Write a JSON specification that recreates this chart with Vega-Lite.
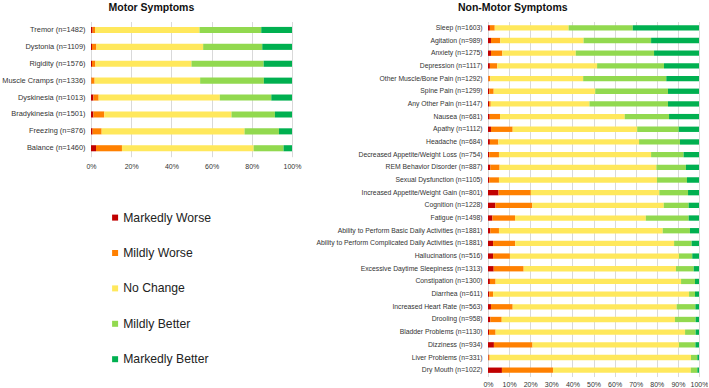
{
  "$schema": "https://vega.github.io/schema/vega-lite/v6.json",
  "padding": {"left": 1, "top": 2.5, "right": 0, "bottom": 0},
  "background": "white",
  "config": {
    "view": {"stroke": null},
    "font": "Liberation Sans",
    "axis": {"domain": false, "ticks": false, "labelColor": "#333333", "labelFont": "Liberation Sans", "labelFlush": false},
    "title": {"font": "Liberation Sans", "fontSize": 10.5, "fontWeight": "bold", "color": "#111111"}
  },
  "datasets": {
    "levels": [
      {"c": "Markedly Worse", "k": 1},
      {"c": "Mildly Worse", "k": 2},
      {"c": "No Change", "k": 3},
      {"c": "Mildly Better", "k": 4},
      {"c": "Markedly Better", "k": 5}
    ],
    "motor": [
      {"s": "Tremor (n=1482)", "c": "Markedly Worse", "v": 0.8},
      {"s": "Tremor (n=1482)", "c": "Mildly Worse", "v": 1.2},
      {"s": "Tremor (n=1482)", "c": "No Change", "v": 52},
      {"s": "Tremor (n=1482)", "c": "Mildly Better", "v": 30.7},
      {"s": "Tremor (n=1482)", "c": "Markedly Better", "v": 15.3},
      {"s": "Dystonia (n=1109)", "c": "Markedly Worse", "v": 0.5},
      {"s": "Dystonia (n=1109)", "c": "Mildly Worse", "v": 2.2},
      {"s": "Dystonia (n=1109)", "c": "No Change", "v": 53.1},
      {"s": "Dystonia (n=1109)", "c": "Mildly Better", "v": 29.4},
      {"s": "Dystonia (n=1109)", "c": "Markedly Better", "v": 14.8},
      {"s": "Rigidity  (n=1576)", "c": "Markedly Worse", "v": 0.5},
      {"s": "Rigidity  (n=1576)", "c": "Mildly Worse", "v": 1.7},
      {"s": "Rigidity  (n=1576)", "c": "No Change", "v": 47.8},
      {"s": "Rigidity  (n=1576)", "c": "Mildly Better", "v": 35.9},
      {"s": "Rigidity  (n=1576)", "c": "Markedly Better", "v": 14.1},
      {"s": "Muscle Cramps (n=1336)", "c": "Markedly Worse", "v": 0.2},
      {"s": "Muscle Cramps (n=1336)", "c": "Mildly Worse", "v": 1.6},
      {"s": "Muscle Cramps (n=1336)", "c": "No Change", "v": 52.5},
      {"s": "Muscle Cramps (n=1336)", "c": "Mildly Better", "v": 31.7},
      {"s": "Muscle Cramps (n=1336)", "c": "Markedly Better", "v": 14},
      {"s": "Dyskinesia (n=1013)", "c": "Markedly Worse", "v": 1.2},
      {"s": "Dyskinesia (n=1013)", "c": "Mildly Worse", "v": 2.6},
      {"s": "Dyskinesia (n=1013)", "c": "No Change", "v": 60.3},
      {"s": "Dyskinesia (n=1013)", "c": "Mildly Better", "v": 25.6},
      {"s": "Dyskinesia (n=1013)", "c": "Markedly Better", "v": 10.3},
      {"s": "Bradykinesia (n=1501)", "c": "Markedly Worse", "v": 1.2},
      {"s": "Bradykinesia (n=1501)", "c": "Mildly Worse", "v": 5.4},
      {"s": "Bradykinesia (n=1501)", "c": "No Change", "v": 63.3},
      {"s": "Bradykinesia (n=1501)", "c": "Mildly Better", "v": 21.6},
      {"s": "Bradykinesia (n=1501)", "c": "Markedly Better", "v": 8.5},
      {"s": "Freezing (n=876)", "c": "Markedly Worse", "v": 0.8},
      {"s": "Freezing (n=876)", "c": "Mildly Worse", "v": 4.5},
      {"s": "Freezing (n=876)", "c": "No Change", "v": 71.1},
      {"s": "Freezing (n=876)", "c": "Mildly Better", "v": 17.1},
      {"s": "Freezing (n=876)", "c": "Markedly Better", "v": 6.5},
      {"s": "Balance (n=1460)", "c": "Markedly Worse", "v": 2.5},
      {"s": "Balance (n=1460)", "c": "Mildly Worse", "v": 12.9},
      {"s": "Balance (n=1460)", "c": "No Change", "v": 65.5},
      {"s": "Balance (n=1460)", "c": "Mildly Better", "v": 14.9},
      {"s": "Balance (n=1460)", "c": "Markedly Better", "v": 4.2}
    ],
    "nonmotor": [
      {"s": "Sleep (n=1603)", "c": "Markedly Worse", "v": 0.9},
      {"s": "Sleep (n=1603)", "c": "Mildly Worse", "v": 2.3},
      {"s": "Sleep (n=1603)", "c": "No Change", "v": 35},
      {"s": "Sleep (n=1603)", "c": "Mildly Better", "v": 30.4},
      {"s": "Sleep (n=1603)", "c": "Markedly Better", "v": 31.4},
      {"s": "Agitation (n=989)", "c": "Markedly Worse", "v": 1.4},
      {"s": "Agitation (n=989)", "c": "Mildly Worse", "v": 4.4},
      {"s": "Agitation (n=989)", "c": "No Change", "v": 39.5},
      {"s": "Agitation (n=989)", "c": "Mildly Better", "v": 32},
      {"s": "Agitation (n=989)", "c": "Markedly Better", "v": 22.7},
      {"s": "Anxiety (n=1275)", "c": "Markedly Worse", "v": 1.4},
      {"s": "Anxiety (n=1275)", "c": "Mildly Worse", "v": 5.4},
      {"s": "Anxiety (n=1275)", "c": "No Change", "v": 34.8},
      {"s": "Anxiety (n=1275)", "c": "Mildly Better", "v": 37.1},
      {"s": "Anxiety (n=1275)", "c": "Markedly Better", "v": 21.3},
      {"s": "Depression (n=1117)", "c": "Markedly Worse", "v": 0.9},
      {"s": "Depression (n=1117)", "c": "Mildly Worse", "v": 3.5},
      {"s": "Depression (n=1117)", "c": "No Change", "v": 47.3},
      {"s": "Depression (n=1117)", "c": "Mildly Better", "v": 31.7},
      {"s": "Depression (n=1117)", "c": "Markedly Better", "v": 16.6},
      {"s": "Other Muscle/Bone Pain (n=1292)", "c": "Markedly Worse", "v": 0.2},
      {"s": "Other Muscle/Bone Pain (n=1292)", "c": "Mildly Worse", "v": 0.9},
      {"s": "Other Muscle/Bone Pain (n=1292)", "c": "No Change", "v": 44},
      {"s": "Other Muscle/Bone Pain (n=1292)", "c": "Mildly Better", "v": 39.4},
      {"s": "Other Muscle/Bone Pain (n=1292)", "c": "Markedly Better", "v": 15.5},
      {"s": "Spine Pain (n=1299)", "c": "Markedly Worse", "v": 0.6},
      {"s": "Spine Pain (n=1299)", "c": "Mildly Worse", "v": 2.1},
      {"s": "Spine Pain (n=1299)", "c": "No Change", "v": 48.1},
      {"s": "Spine Pain (n=1299)", "c": "Mildly Better", "v": 34.5},
      {"s": "Spine Pain (n=1299)", "c": "Markedly Better", "v": 14.7},
      {"s": "Any Other Pain (n=1147)", "c": "Markedly Worse", "v": 0.5},
      {"s": "Any Other Pain (n=1147)", "c": "Mildly Worse", "v": 0.8},
      {"s": "Any Other Pain (n=1147)", "c": "No Change", "v": 46.8},
      {"s": "Any Other Pain (n=1147)", "c": "Mildly Better", "v": 37.2},
      {"s": "Any Other Pain (n=1147)", "c": "Markedly Better", "v": 14.7},
      {"s": "Nausea (n=681)", "c": "Markedly Worse", "v": 0.8},
      {"s": "Nausea (n=681)", "c": "Mildly Worse", "v": 4.9},
      {"s": "Nausea (n=681)", "c": "No Change", "v": 59.1},
      {"s": "Nausea (n=681)", "c": "Mildly Better", "v": 21},
      {"s": "Nausea (n=681)", "c": "Markedly Better", "v": 14.2},
      {"s": "Apathy (n=1112)", "c": "Markedly Worse", "v": 1.4},
      {"s": "Apathy (n=1112)", "c": "Mildly Worse", "v": 10.3},
      {"s": "Apathy (n=1112)", "c": "No Change", "v": 59},
      {"s": "Apathy (n=1112)", "c": "Mildly Better", "v": 19.7},
      {"s": "Apathy (n=1112)", "c": "Markedly Better", "v": 9.6},
      {"s": "Headache (n=684)", "c": "Markedly Worse", "v": 0.9},
      {"s": "Headache (n=684)", "c": "Mildly Worse", "v": 4},
      {"s": "Headache (n=684)", "c": "No Change", "v": 66.7},
      {"s": "Headache (n=684)", "c": "Mildly Better", "v": 19.4},
      {"s": "Headache (n=684)", "c": "Markedly Better", "v": 9},
      {"s": "Decreased Appetite/Weight Loss  (n=754)", "c": "Markedly Worse", "v": 0.6},
      {"s": "Decreased Appetite/Weight Loss  (n=754)", "c": "Mildly Worse", "v": 4.6},
      {"s": "Decreased Appetite/Weight Loss  (n=754)", "c": "No Change", "v": 72.1},
      {"s": "Decreased Appetite/Weight Loss  (n=754)", "c": "Mildly Better", "v": 15.4},
      {"s": "Decreased Appetite/Weight Loss  (n=754)", "c": "Markedly Better", "v": 7.3},
      {"s": "REM Behavior Disorder (n=887)", "c": "Markedly Worse", "v": 1.1},
      {"s": "REM Behavior Disorder (n=887)", "c": "Mildly Worse", "v": 4.4},
      {"s": "REM Behavior Disorder (n=887)", "c": "No Change", "v": 74.3},
      {"s": "REM Behavior Disorder (n=887)", "c": "Mildly Better", "v": 14},
      {"s": "REM Behavior Disorder (n=887)", "c": "Markedly Better", "v": 6.2},
      {"s": "Sexual Dysfunction (n=1105)", "c": "Markedly Worse", "v": 0.6},
      {"s": "Sexual Dysfunction (n=1105)", "c": "Mildly Worse", "v": 4.6},
      {"s": "Sexual Dysfunction (n=1105)", "c": "No Change", "v": 74.9},
      {"s": "Sexual Dysfunction (n=1105)", "c": "Mildly Better", "v": 14.2},
      {"s": "Sexual Dysfunction (n=1105)", "c": "Markedly Better", "v": 5.7},
      {"s": "Increased Appetite/Weight Gain (n=801)", "c": "Markedly Worse", "v": 5},
      {"s": "Increased Appetite/Weight Gain (n=801)", "c": "Mildly Worse", "v": 15.3},
      {"s": "Increased Appetite/Weight Gain (n=801)", "c": "No Change", "v": 60.9},
      {"s": "Increased Appetite/Weight Gain (n=801)", "c": "Mildly Better", "v": 13.6},
      {"s": "Increased Appetite/Weight Gain (n=801)", "c": "Markedly Better", "v": 5.2},
      {"s": "Cognition (n=1228)", "c": "Markedly Worse", "v": 3.5},
      {"s": "Cognition (n=1228)", "c": "Mildly Worse", "v": 17.5},
      {"s": "Cognition (n=1228)", "c": "No Change", "v": 62.3},
      {"s": "Cognition (n=1228)", "c": "Mildly Better", "v": 11.8},
      {"s": "Cognition (n=1228)", "c": "Markedly Better", "v": 4.9},
      {"s": "Fatigue (n=1498)", "c": "Markedly Worse", "v": 2.1},
      {"s": "Fatigue (n=1498)", "c": "Mildly Worse", "v": 10.7},
      {"s": "Fatigue (n=1498)", "c": "No Change", "v": 62},
      {"s": "Fatigue (n=1498)", "c": "Mildly Better", "v": 20.3},
      {"s": "Fatigue (n=1498)", "c": "Markedly Better", "v": 4.9},
      {"s": "Ability to Perform Basic Daily Activities (n=1881)", "c": "Markedly Worse", "v": 1.1},
      {"s": "Ability to Perform Basic Daily Activities (n=1881)", "c": "Mildly Worse", "v": 4.1},
      {"s": "Ability to Perform Basic Daily Activities (n=1881)", "c": "No Change", "v": 77.6},
      {"s": "Ability to Perform Basic Daily Activities (n=1881)", "c": "Mildly Better", "v": 12.9},
      {"s": "Ability to Perform Basic Daily Activities (n=1881)", "c": "Markedly Better", "v": 4.3},
      {"s": "Ability to Perform Complicated Daily Activities (n=1881)", "c": "Markedly Worse", "v": 2.4},
      {"s": "Ability to Perform Complicated Daily Activities (n=1881)", "c": "Mildly Worse", "v": 10.5},
      {"s": "Ability to Perform Complicated Daily Activities (n=1881)", "c": "No Change", "v": 75.3},
      {"s": "Ability to Perform Complicated Daily Activities (n=1881)", "c": "Mildly Better", "v": 8.3},
      {"s": "Ability to Perform Complicated Daily Activities (n=1881)", "c": "Markedly Better", "v": 3.5},
      {"s": "Hallucinations  (n=516)", "c": "Markedly Worse", "v": 2.4},
      {"s": "Hallucinations  (n=516)", "c": "Mildly Worse", "v": 8},
      {"s": "Hallucinations  (n=516)", "c": "No Change", "v": 80.1},
      {"s": "Hallucinations  (n=516)", "c": "Mildly Better", "v": 6.3},
      {"s": "Hallucinations  (n=516)", "c": "Markedly Better", "v": 3.2},
      {"s": "Excessive Daytime Sleepiness (n=1313)", "c": "Markedly Worse", "v": 2.7},
      {"s": "Excessive Daytime Sleepiness (n=1313)", "c": "Mildly Worse", "v": 14.2},
      {"s": "Excessive Daytime Sleepiness (n=1313)", "c": "No Change", "v": 72.2},
      {"s": "Excessive Daytime Sleepiness (n=1313)", "c": "Mildly Better", "v": 8.4},
      {"s": "Excessive Daytime Sleepiness (n=1313)", "c": "Markedly Better", "v": 2.5},
      {"s": "Constipation (n=1300)", "c": "Markedly Worse", "v": 0.9},
      {"s": "Constipation (n=1300)", "c": "Mildly Worse", "v": 2.7},
      {"s": "Constipation (n=1300)", "c": "No Change", "v": 87.9},
      {"s": "Constipation (n=1300)", "c": "Mildly Better", "v": 6.6},
      {"s": "Constipation (n=1300)", "c": "Markedly Better", "v": 1.9},
      {"s": "Diarrhea (n=611)", "c": "Markedly Worse", "v": 0.6},
      {"s": "Diarrhea (n=611)", "c": "Mildly Worse", "v": 1.8},
      {"s": "Diarrhea (n=611)", "c": "No Change", "v": 92.9},
      {"s": "Diarrhea (n=611)", "c": "Mildly Better", "v": 2.8},
      {"s": "Diarrhea (n=611)", "c": "Markedly Better", "v": 1.9},
      {"s": "Increased Heart Rate (n=563)", "c": "Markedly Worse", "v": 1.4},
      {"s": "Increased Heart Rate (n=563)", "c": "Mildly Worse", "v": 10.3},
      {"s": "Increased Heart Rate (n=563)", "c": "No Change", "v": 77.7},
      {"s": "Increased Heart Rate (n=563)", "c": "Mildly Better", "v": 8.9},
      {"s": "Increased Heart Rate (n=563)", "c": "Markedly Better", "v": 1.7},
      {"s": "Drooling (n=958)", "c": "Markedly Worse", "v": 1.1},
      {"s": "Drooling (n=958)", "c": "Mildly Worse", "v": 5.4},
      {"s": "Drooling (n=958)", "c": "No Change", "v": 82.1},
      {"s": "Drooling (n=958)", "c": "Mildly Better", "v": 9.8},
      {"s": "Drooling (n=958)", "c": "Markedly Better", "v": 1.6},
      {"s": "Bladder Problems (n=1130)", "c": "Markedly Worse", "v": 0.5},
      {"s": "Bladder Problems (n=1130)", "c": "Mildly Worse", "v": 3.1},
      {"s": "Bladder Problems (n=1130)", "c": "No Change", "v": 89.8},
      {"s": "Bladder Problems (n=1130)", "c": "Mildly Better", "v": 5},
      {"s": "Bladder Problems (n=1130)", "c": "Markedly Better", "v": 1.6},
      {"s": "Dizziness (n=934)", "c": "Markedly Worse", "v": 2.8},
      {"s": "Dizziness (n=934)", "c": "Mildly Worse", "v": 18.3},
      {"s": "Dizziness (n=934)", "c": "No Change", "v": 69.4},
      {"s": "Dizziness (n=934)", "c": "Mildly Better", "v": 7.8},
      {"s": "Dizziness (n=934)", "c": "Markedly Better", "v": 1.7},
      {"s": "Liver Problems (n=331)", "c": "Markedly Worse", "v": 0.3},
      {"s": "Liver Problems (n=331)", "c": "Mildly Worse", "v": 0.5},
      {"s": "Liver Problems (n=331)", "c": "No Change", "v": 95.4},
      {"s": "Liver Problems (n=331)", "c": "Mildly Better", "v": 3},
      {"s": "Liver Problems (n=331)", "c": "Markedly Better", "v": 0.8},
      {"s": "Dry Mouth (n=1022)", "c": "Markedly Worse", "v": 6.6},
      {"s": "Dry Mouth (n=1022)", "c": "Mildly Worse", "v": 24.2},
      {"s": "Dry Mouth (n=1022)", "c": "No Change", "v": 65.3},
      {"s": "Dry Mouth (n=1022)", "c": "Mildly Better", "v": 3.1},
      {"s": "Dry Mouth (n=1022)", "c": "Markedly Better", "v": 0.8}
    ]
  },
  "resolve": {"legend": {"color": "independent"}},
  "spacing": 14,
  "hconcat": [
    {
      "title": {"text": "Motor Symptoms", "anchor": "middle", "frame": "bounds", "offset": 8, "dx": 0},
      "data": {"name": "motor"},
      "transform": [{"lookup": "c", "from": {"data": {"name": "levels"}, "key": "c", "fields": ["k"]}}],
      "width": 201,
      "height": {"step": 16.9},
      "mark": {"type": "bar"},
      "encoding": {
        "y": {"field": "s", "type": "nominal", "sort": null,
              "scale": {"paddingInner": 0.64, "paddingOuter": 0.32},
              "axis": {"title": null, "grid": false, "labelFontSize": 7.4, "labelPadding": 6, "labelLimit": 300}},
        "x": {"field": "v", "type": "quantitative", "stack": "normalize",
              "scale": {"domain": [0, 1]},
              "axis": {"title": null, "format": ".0%", "values": [0, 0.2, 0.4, 0.6, 0.8, 1], "grid": true, "gridColor": "#d9d9d9", "labelFontSize": 7, "labelPadding": 6}},
        "order": {"field": "k", "type": "quantitative", "sort": "ascending"},
        "color": {"field": "c", "type": "nominal",
                  "scale": {"domain": ["Markedly Worse", "Mildly Worse", "No Change", "Mildly Better", "Markedly Better"],
                            "range": ["#c00000", "#ff8000", "#ffe85c", "#92d94f", "#00b050"]},
                  "legend": {"orient": "none", "legendX": 18, "legendY": 190, "title": null, "padding": 0,
                             "symbolType": "square", "symbolSize": 36, "symbolStrokeWidth": 0,
                             "labelFontSize": 12.2, "labelColor": "#222222", "labelOffset": 2,
                             "rowPadding": 22.4}}
      }
    },
    {
      "title": {"text": "Non-Motor Symptoms", "anchor": "middle", "frame": "bounds", "offset": 8, "dx": 1},
      "data": {"name": "nonmotor"},
      "transform": [{"lookup": "c", "from": {"data": {"name": "levels"}, "key": "c", "fields": ["k"]}}],
      "width": 211,
      "height": {"step": 12.68},
      "mark": {"type": "bar"},
      "encoding": {
        "y": {"field": "s", "type": "nominal", "sort": null,
              "scale": {"paddingInner": 0.58, "paddingOuter": 0.29},
              "axis": {"title": null, "grid": false, "labelFontSize": 6.8, "labelPadding": 6, "labelLimit": 300}},
        "x": {"field": "v", "type": "quantitative", "stack": "normalize",
              "scale": {"domain": [0, 1]},
              "axis": {"title": null, "format": ".0%", "values": [0, 0.1, 0.2, 0.3, 0.4, 0.5, 0.6, 0.7, 0.8, 0.9, 1], "grid": true, "gridColor": "#d9d9d9", "labelFontSize": 7, "labelPadding": 4}},
        "order": {"field": "k", "type": "quantitative", "sort": "ascending"},
        "color": {"field": "c", "type": "nominal",
                  "scale": {"domain": ["Markedly Worse", "Mildly Worse", "No Change", "Mildly Better", "Markedly Better"],
                            "range": ["#c00000", "#ff8000", "#ffe85c", "#92d94f", "#00b050"]},
                  "legend": null}
      }
    }
  ]
}
